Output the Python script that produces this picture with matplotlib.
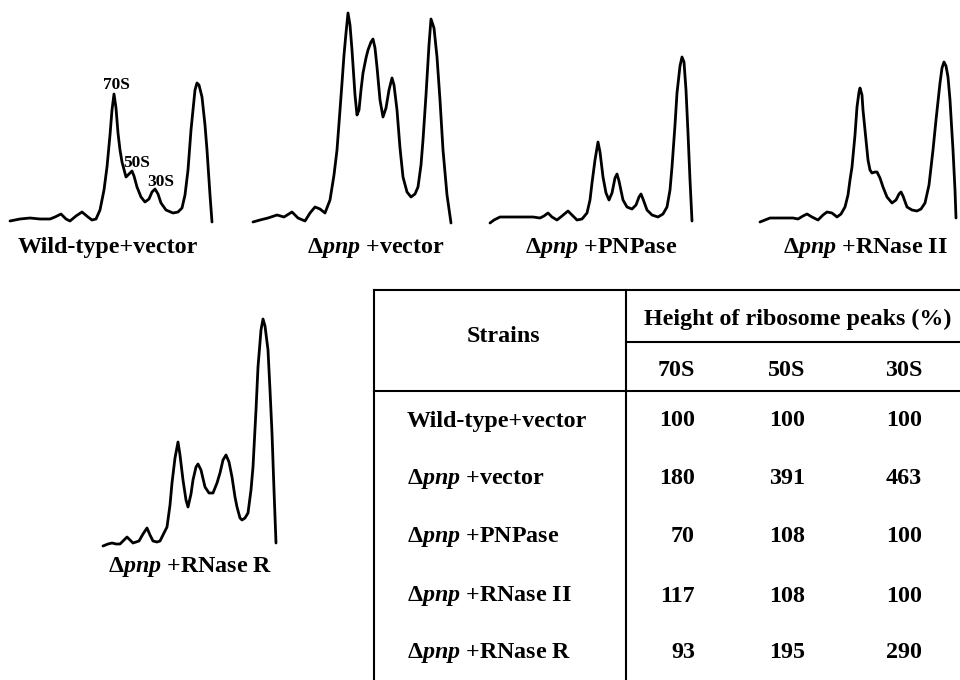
"""Sucrose-gradient ribosome profiles plus the table of peak heights."""

import matplotlib.pyplot as plt
import numpy as np

plt.rcParams["font.family"] = ["Liberation Serif", "DejaVu Serif"]
plt.rcParams["mathtext.fontset"] = "custom"
plt.rcParams["mathtext.rm"] = "Liberation Serif:bold"
plt.rcParams["mathtext.it"] = "Liberation Serif:italic:bold"
plt.rcParams["mathtext.bf"] = "Liberation Serif:bold"

# profiles: position along gradient (px) and A254 height (px)
wt_pos = [0, 10, 20, 30, 40, 45, 51, 56, 60, 66, 72, 78, 82, 86, 90, 94, 97, 100, 102, 104,
          106, 108, 110, 112, 116, 119, 122, 124, 127, 131, 135, 139, 142, 145, 148, 151, 156,
          163, 168, 172, 175, 178, 181, 183, 185, 187, 189, 192, 195, 197, 200, 202]
wt_abs = [1, 3, 4, 3, 3, 5, 8, 3, 1, 6, 10, 5, 2, 3, 12, 32, 55, 87, 112, 128,
          114, 89, 72, 60, 45, 48, 51, 46, 35, 25, 20, 23, 30, 33, 28, 19, 12,
          9, 10, 14, 27, 52, 92, 112, 132, 139, 137, 125, 97, 72, 27, 0]

vec_pos = [0, 7, 15, 24, 31, 39, 45, 52, 57, 62, 67, 72, 77, 81, 84, 87, 89, 91, 93, 95,
           97, 99, 102, 104, 106, 108, 110, 113, 115, 118, 120, 122, 124, 127, 130, 133, 136,
           139, 141, 144, 147, 150, 154, 158, 162, 165, 168, 170, 173, 176, 178, 181, 184,
           187, 190, 194, 198]
vec_abs = [0, 2, 4, 7, 5, 10, 4, 1, 9, 15, 13, 9, 22, 47, 72, 112, 139, 167, 189, 209,
           197, 172, 127, 107, 112, 132, 149, 164, 172, 180, 183, 174, 155, 122, 105, 114, 132,
           144, 137, 112, 74, 45, 30, 25, 28, 35, 57, 82, 127, 177, 203, 194, 165,
           122, 72, 27, -1]

pnp_pos = [0, 4, 10, 20, 30, 37, 43, 50, 54, 58, 62, 67, 72, 78, 82, 87, 92, 97, 100, 102,
           105, 108, 110, 113, 116, 119, 122, 125, 127, 129, 133, 137, 142, 146, 149, 151,
           153, 157, 162, 168, 173, 177, 180, 182, 185, 187, 190, 192, 194, 196, 198, 200, 202]
pnp_abs = [-1, 2, 5, 5, 5, 5, 5, 4, 6, 9, 5, 2, 6, 11, 7, 2, 3, 9, 22, 39,
           62, 80, 70, 45, 29, 22, 29, 44, 48, 41, 22, 15, 13, 17, 25, 28,
           23, 12, 7, 5, 8, 15, 32, 55, 97, 129, 156, 165, 160, 132, 89, 42, 1]

rnb_pos = [0, 5, 10, 18, 27, 33, 38, 43, 47, 52, 58, 63, 67, 72, 77, 81, 85, 88, 90, 92,
           95, 97, 99, 100, 102, 103, 106, 108, 110, 112, 115, 117, 120, 123, 127, 132, 136,
           139, 141, 143, 147, 152, 157, 161, 165, 169, 173, 176, 180, 182, 184, 186, 188,
           190, 193, 195, 196]
rnb_abs = [0, 2, 4, 4, 4, 4, 3, 6, 8, 5, 2, 7, 10, 9, 5, 8, 15, 27, 42, 55,
           87, 115, 130, 134, 127, 112, 82, 62, 52, 49, 50, 50, 44, 35, 25, 19, 22,
           28, 30, 26, 15, 12, 11, 13, 19, 37, 72, 102, 139, 154, 160, 156, 145,
           122, 72, 32, 4]

rnr_pos = [0, 5, 9, 13, 17, 21, 24, 27, 30, 33, 36, 40, 44, 47, 50, 54, 57, 61, 64, 67,
           69, 72, 75, 77, 80, 83, 85, 88, 90, 93, 95, 98, 102, 106, 110, 114, 117, 120, 123,
           126, 129, 132, 134, 137, 139, 142, 145, 148, 150, 153, 155, 158, 160, 162, 165,
           167, 169, 171, 173]
rnr_abs = [0, 2, 3, 2, 2, 6, 9, 6, 3, 4, 5, 12, 18, 11, 5, 4, 5, 13, 19, 41,
           63, 88, 104, 91, 66, 46, 39, 52, 66, 79, 82, 76, 59, 53, 53, 63, 73, 86, 91,
           84, 69, 49, 39, 28, 26, 28, 33, 56, 79, 136, 179, 216, 227, 220, 196,
           156, 113, 56, 3]

DPNP = r"$\Delta\mathit{pnp}$"
strains = ["Wild-type+vector", DPNP + " +vector", DPNP + " +PNPase",
           DPNP + " +RNase II", DPNP + " +RNase R"]
peaks = ["70S", "50S", "30S"]
h70 = [100, 180, 70, 117, 93]
h50 = [100, 391, 108, 108, 195]
h30 = [100, 463, 100, 100, 290]

# panel layout (figure pixels): trace origin, caption centre
panels = [
    (wt_pos, wt_abs, (10, 222), (108, 248)),
    (vec_pos, vec_abs, (253, 222), (376, 248)),
    (pnp_pos, pnp_abs, (490, 222), (601, 248)),
    (rnb_pos, rnb_abs, (760, 222), (865, 248)),
    (rnr_pos, rnr_abs, (103, 546), (190, 567)),
]

fig = plt.figure(figsize=(9.6, 6.8), dpi=100)
ax = fig.add_axes([0, 0, 1, 1])
ax.set_xlim(0, 960)
ax.set_ylim(680, 0)
ax.axis("off")

for (pos, a, (x0, y0), (cx, cy)), name in zip(panels, strains):
    ax.plot(x0 + np.array(pos), y0 - np.array(a), color="black", lw=2.0,
            solid_joinstyle="round", solid_capstyle="round")
    ax.text(cx, cy, name, ha="center", va="center", fontsize=17.3, fontweight="bold")

# peak labels on the wild-type profile
for lab, (x, y) in zip(peaks, [(116, 85), (137, 163), (161, 182)]):
    ax.text(x, y, lab, ha="center", va="center", fontsize=12.5, fontweight="bold")

# table rules
lw = 1.5
ax.plot([374, 960], [290, 290], color="black", lw=lw)
ax.plot([374, 374], [290, 680], color="black", lw=lw)
ax.plot([626, 626], [290, 680], color="black", lw=lw)
ax.plot([626, 960], [342, 342], color="black", lw=lw)
ax.plot([374, 960], [391, 391], color="black", lw=lw)

fs = 17.3
ax.text(503, 337, "Strains", ha="center", va="center", fontsize=fs, fontweight="bold")
ax.text(798, 319, "Height of ribosome peaks (%)", ha="center", va="center",
        fontsize=fs, fontweight="bold")

col_right = [695, 805, 922]
row_y = [421, 479, 537, 596, 653]
for xr, lab in zip(col_right, peaks):
    ax.text(xr, 370, lab, ha="right", va="center", fontsize=fs, fontweight="bold")
for i, name in enumerate(strains):
    ax.text(407, row_y[i], name, ha="left", va="center", fontsize=fs, fontweight="bold")
    for xr, vals in zip(col_right, [h70, h50, h30]):
        ax.text(xr, row_y[i], str(vals[i]), ha="right", va="center",
                fontsize=fs, fontweight="bold")

fig.savefig("out.png", dpi=100, facecolor="white")
